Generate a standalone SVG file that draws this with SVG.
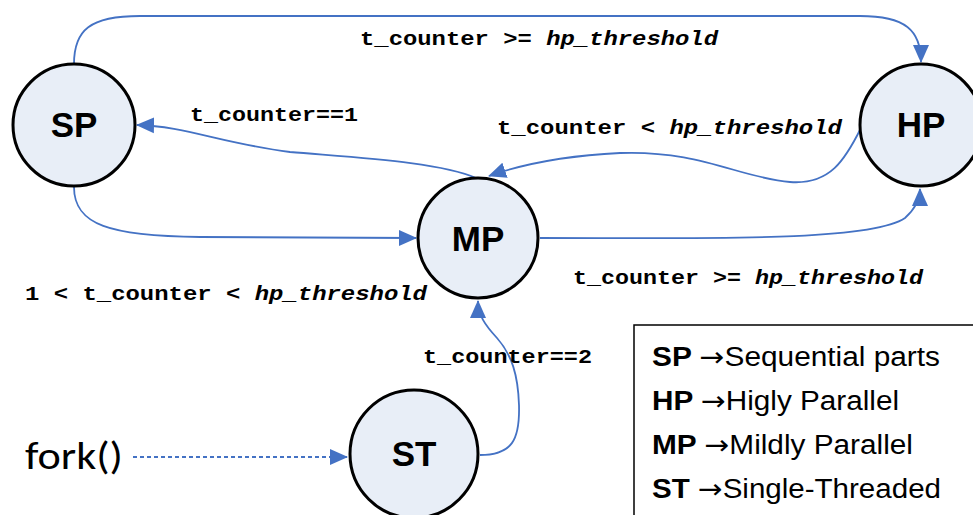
<svg xmlns="http://www.w3.org/2000/svg" width="973" height="515" viewBox="0 0 973 515">
<style>
.node{fill:#E8EEF7;stroke:#000;stroke-width:3}
.nlabel{font-family:"Liberation Sans",Arial,sans-serif;font-weight:bold;font-size:35px;text-anchor:middle;fill:#000}
.edge{fill:none;stroke:#4472C4;stroke-width:1.8}
.elabel{font-family:"Liberation Mono","Courier New",monospace;font-weight:bold;font-size:21px;fill:#000}
.it{font-style:italic}
.legend{font-family:"Liberation Sans",Arial,sans-serif;font-size:27px;fill:#000}
.ar{font-family:"DejaVu Sans",sans-serif;font-size:27px}
</style>
<defs>
<marker id="arrh" viewBox="0 0 18 18" refX="17" refY="9" markerWidth="18" markerHeight="18" markerUnits="userSpaceOnUse" orient="auto">
<path d="M0,1 L18,9 L0,17 z" fill="#4472C4"/>
</marker>
</defs>
<rect width="973" height="515" fill="#fff"/>
<g id="connectors">
<path class="edge" marker-end="url(#arrh)" d="M74,64 C74,30 90,16 140,16 L860,16 C905,16 921,30 921,62"/>
<path class="edge" marker-end="url(#arrh)" d="M476,178 C440,162 360,158 290,152 C220,143 185,126 137,125"/>
<path class="edge" marker-end="url(#arrh)" d="M861,128 C845,160 830,185 790,182 C740,178 700,150 620,153 C560,156 520,165 489,176"/>
<path class="edge" marker-end="url(#arrh)" d="M74,187 C74,225 110,236 200,237 L416,238"/>
<path class="edge" marker-end="url(#arrh)" d="M540,238 C700,238 870,242 905,218 C916,208 920,198 920,189"/>
<path class="edge" marker-end="url(#arrh)" d="M480,455 C512,455 520,440 519,405 C518,375 512,355 497,338 C485,325 478,315 478,301"/>
<path class="edge" stroke-dasharray="4,3" stroke-width="2.4" marker-end="url(#arrh)" d="M133,457 L347,457"/>
</g>
<g id="node-SP"><circle class="node" cx="74" cy="125" r="61"/><text class="nlabel" x="74" y="137">SP</text></g>
<g id="node-HP"><circle class="node" cx="921" cy="125" r="61"/><text class="nlabel" x="921" y="137">HP</text></g>
<g id="node-MP"><circle class="node" cx="478" cy="238" r="60"/><text class="nlabel" x="478" y="251">MP</text></g>
<g id="node-ST"><circle class="node" cx="414" cy="454" r="64"/><text class="nlabel" x="414" y="466">ST</text></g>
<g id="labels">
<text class="elabel" x="360" y="45" textLength="358" lengthAdjust="spacingAndGlyphs">t_counter &gt;= <tspan class="it">hp_threshold</tspan></text>
<text class="elabel" x="190" y="121" textLength="168" lengthAdjust="spacingAndGlyphs">t_counter==1</text>
<text class="elabel" x="497" y="134" textLength="345" lengthAdjust="spacingAndGlyphs">t_counter &lt; <tspan class="it">hp_threshold</tspan></text>
<text class="elabel" x="573" y="284" textLength="350" lengthAdjust="spacingAndGlyphs">t_counter &gt;= <tspan class="it">hp_threshold</tspan></text>
<text class="elabel" x="25" y="300" textLength="402" lengthAdjust="spacingAndGlyphs">1 &lt; t_counter &lt; <tspan class="it">hp_threshold</tspan></text>
<text class="elabel" x="423" y="363" textLength="169" lengthAdjust="spacingAndGlyphs">t_counter==2</text>
<text x="25" y="469" font-family="Carlito,'Liberation Sans',Arial,sans-serif" font-size="38" textLength="98" lengthAdjust="spacingAndGlyphs" fill="#000">fork()</text>
</g>
<g id="legend">
<rect x="634" y="325" width="345" height="200" fill="#fff" stroke="#000" stroke-width="1.5"/>
<text class="legend" x="652" y="366" textLength="288" lengthAdjust="spacingAndGlyphs"><tspan font-weight="bold">SP </tspan><tspan class="ar">→</tspan>Sequential parts</text>
<text class="legend" x="652" y="410" textLength="247" lengthAdjust="spacingAndGlyphs"><tspan font-weight="bold">HP </tspan><tspan class="ar">→</tspan>Higly Parallel</text>
<text class="legend" x="652" y="454" textLength="261" lengthAdjust="spacingAndGlyphs"><tspan font-weight="bold">MP </tspan><tspan class="ar">→</tspan>Mildly Parallel</text>
<text class="legend" x="652" y="498" textLength="289" lengthAdjust="spacingAndGlyphs"><tspan font-weight="bold">ST </tspan><tspan class="ar">→</tspan>Single-Threaded</text>
</g>
</svg>
